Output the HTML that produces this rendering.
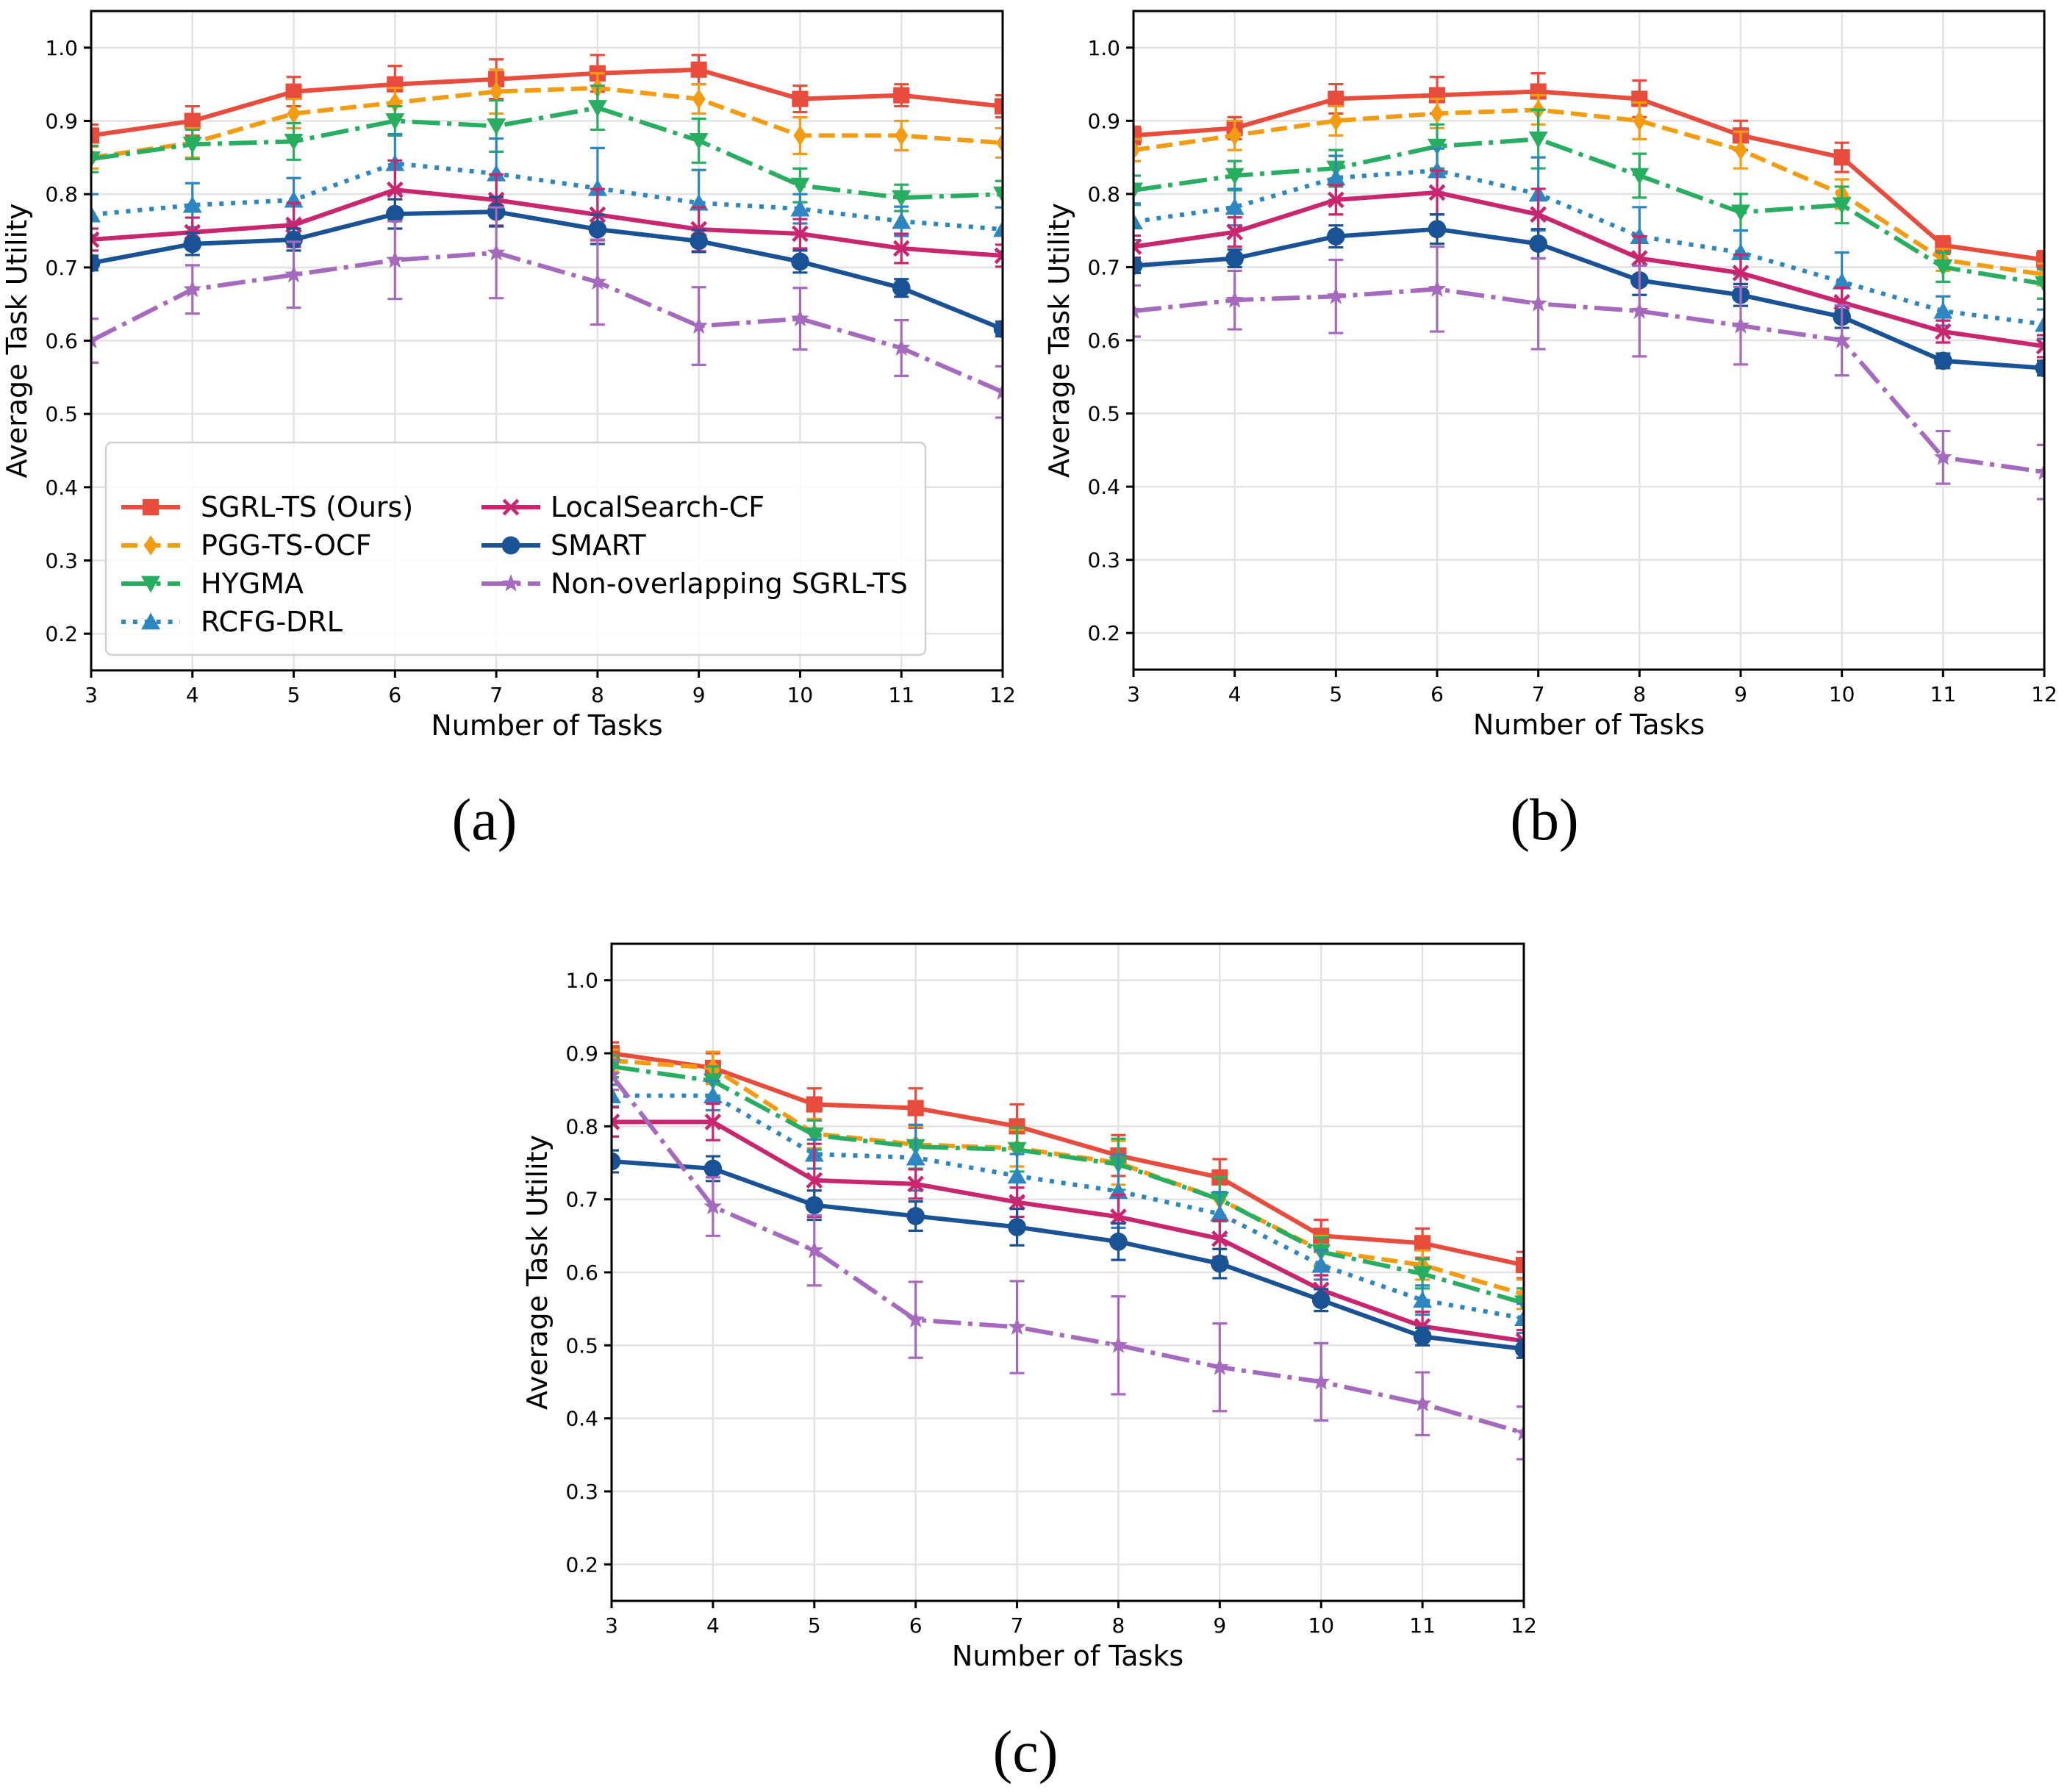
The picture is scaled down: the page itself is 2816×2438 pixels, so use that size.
<!DOCTYPE html>
<html><head><meta charset="utf-8">
<style>
html,body{margin:0;padding:0;background:#fff;}
svg{display:block;}
text{font-family:"DejaVu Sans","Liberation Sans",sans-serif;}
</style></head>
<body>
<svg id="fig" xmlns="http://www.w3.org/2000/svg" width="2816" height="2438" viewBox="0 0 2816 2438"></svg>
<script>
const xCats = [3,4,5,6,7,8,9,10,11,12];
const yTicks = [0.2,0.3,0.4,0.5,0.6,0.7,0.8,0.9,1.0];
const yTickLabels = ["0.2","0.3","0.4","0.5","0.6","0.7","0.8","0.9","1.0"];
const seriesNames = ["SGRL-TS (Ours)","PGG-TS-OCF","HYGMA","RCFG-DRL","LocalSearch-CF","SMART","Non-overlapping SGRL-TS"];

// Panel (a)
const aSgrl  = [0.88,0.90,0.94,0.95,0.957,0.965,0.97,0.93,0.935,0.92];
const aPgg   = [0.85,0.87,0.91,0.925,0.94,0.945,0.93,0.88,0.88,0.87];
const aHygma = [0.848,0.868,0.872,0.90,0.893,0.918,0.873,0.812,0.795,0.80];
const aRcfg  = [0.772,0.785,0.792,0.842,0.828,0.808,0.788,0.78,0.763,0.752];
const aLocal = [0.738,0.748,0.758,0.806,0.792,0.772,0.752,0.746,0.726,0.716];
const aSmart = [0.706,0.732,0.738,0.773,0.776,0.752,0.736,0.708,0.672,0.616];
const aNon   = [0.60,0.67,0.69,0.71,0.72,0.68,0.62,0.63,0.59,0.53];
const aSgrlErr  = [0.015,0.02,0.02,0.025,0.027,0.025,0.02,0.018,0.015,0.015];
const aPggErr   = [0.015,0.02,0.02,0.02,0.03,0.02,0.02,0.025,0.02,0.02];
const aHygmaErr = [0.018,0.02,0.025,0.02,0.035,0.03,0.03,0.023,0.018,0.018];
const aRcfgErr  = [0.028,0.03,0.03,0.04,0.048,0.055,0.045,0.02,0.02,0.03];
const aLocalErr = [0.015,0.02,0.03,0.04,0.035,0.035,0.03,0.02,0.02,0.015];
const aSmartErr = [0.01,0.015,0.015,0.02,0.02,0.02,0.015,0.015,0.012,0.01];
const aNonErr   = [0.03,0.033,0.045,0.053,0.062,0.058,0.053,0.042,0.038,0.035];

// Panel (b)
const bSgrl  = [0.88,0.89,0.93,0.935,0.94,0.93,0.88,0.85,0.73,0.71];
const bPgg   = [0.86,0.88,0.90,0.91,0.915,0.90,0.86,0.80,0.71,0.69];
const bHygma = [0.805,0.825,0.835,0.865,0.875,0.825,0.775,0.785,0.70,0.677];
const bRcfg  = [0.762,0.782,0.822,0.832,0.80,0.742,0.72,0.68,0.64,0.622];
const bLocal = [0.728,0.748,0.792,0.802,0.772,0.712,0.692,0.652,0.612,0.592];
const bSmart = [0.702,0.712,0.742,0.752,0.732,0.682,0.662,0.632,0.572,0.562];
const bNon   = [0.64,0.655,0.66,0.67,0.65,0.64,0.62,0.60,0.44,0.42];
const bSgrlErr  = [0.012,0.015,0.02,0.025,0.025,0.025,0.02,0.02,0.012,0.012];
const bPggErr   = [0.015,0.02,0.02,0.02,0.02,0.025,0.025,0.02,0.015,0.015];
const bHygmaErr = [0.02,0.02,0.025,0.03,0.04,0.03,0.025,0.025,0.02,0.02];
const bRcfgErr  = [0.025,0.025,0.03,0.03,0.05,0.04,0.03,0.04,0.02,0.02];
const bLocalErr = [0.015,0.02,0.02,0.03,0.035,0.03,0.025,0.02,0.015,0.015];
const bSmartErr = [0.01,0.012,0.015,0.02,0.02,0.02,0.015,0.015,0.01,0.01];
const bNonErr   = [0.035,0.04,0.05,0.058,0.062,0.062,0.053,0.048,0.036,0.037];

// Panel (c)
const cSgrl  = [0.90,0.88,0.83,0.825,0.80,0.76,0.73,0.65,0.64,0.61];
const cPgg   = [0.89,0.88,0.79,0.775,0.77,0.75,0.70,0.63,0.61,0.57];
const cHygma = [0.882,0.862,0.788,0.772,0.768,0.748,0.70,0.628,0.598,0.558];
const cRcfg  = [0.842,0.842,0.762,0.757,0.732,0.711,0.68,0.61,0.562,0.537];
const cLocal = [0.806,0.806,0.726,0.721,0.696,0.676,0.646,0.576,0.526,0.506];
const cSmart = [0.752,0.742,0.692,0.677,0.662,0.642,0.612,0.562,0.512,0.495];
const cNon   = [0.87,0.69,0.63,0.535,0.525,0.50,0.47,0.45,0.42,0.38];
const cSgrlErr  = [0.015,0.02,0.022,0.027,0.03,0.028,0.025,0.022,0.02,0.018];
const cPggErr   = [0.015,0.022,0.02,0.025,0.025,0.03,0.03,0.02,0.02,0.02];
const cHygmaErr = [0.015,0.02,0.02,0.03,0.03,0.035,0.03,0.02,0.02,0.02];
const cRcfgErr  = [0.015,0.02,0.02,0.045,0.03,0.05,0.03,0.02,0.02,0.02];
const cLocalErr = [0.02,0.025,0.05,0.02,0.02,0.03,0.025,0.02,0.02,0.015];
const cSmartErr = [0.015,0.017,0.02,0.02,0.025,0.025,0.02,0.015,0.012,0.012];
const cNonErr   = [0.02,0.04,0.048,0.052,0.063,0.067,0.06,0.053,0.043,0.036];

const styles = [
  {color:"#e74c3c", dash:"", marker:"s"},
  {color:"#f39c12", dash:"22 9.5", marker:"d"},
  {color:"#27ae60", dash:"38 9.5 6 9.5", marker:"v"},
  {color:"#2e86c1", dash:"6 9.9", marker:"^"},
  {color:"#c9266f", dash:"", marker:"x"},
  {color:"#1a5296", dash:"", marker:"o"},
  {color:"#a569bd", dash:"38 9.5 6 9.5", marker:"*"}
];

const NS = "http://www.w3.org/2000/svg";
const fig = document.getElementById("fig");
function el(tag, attrs, parent){
  const e = document.createElementNS(NS, tag);
  for (const k in attrs) e.setAttribute(k, attrs[k]);
  (parent||fig).appendChild(e);
  return e;
}

function drawMarker(g, type, cx, cy, color, r){
  let m;
  if (type==="s") m = el("rect",{x:cx-r*0.85,y:cy-r*0.85,width:r*1.7,height:r*1.7,fill:color},g);
  else if (type==="o") m = el("circle",{cx:cx,cy:cy,r:r*0.95,fill:color},g);
  else if (type==="d") m = el("polygon",{points:`${cx},${cy-r*1.05} ${cx+r*0.7},${cy} ${cx},${cy+r*1.05} ${cx-r*0.7},${cy}`,fill:color},g);
  else if (type==="v") m = el("polygon",{points:`${cx-r},${cy-r*0.8} ${cx+r},${cy-r*0.8} ${cx},${cy+r*0.95}`,fill:color},g);
  else if (type==="^") m = el("polygon",{points:`${cx-r},${cy+r*0.8} ${cx+r},${cy+r*0.8} ${cx},${cy-r*0.95}`,fill:color},g);
  else if (type==="x") m = el("path",{d:`M${cx-r*0.75},${cy-r*0.75}L${cx+r*0.75},${cy+r*0.75}M${cx-r*0.75},${cy+r*0.75}L${cx+r*0.75},${cy-r*0.75}`,stroke:color,"stroke-width":4.5,fill:"none"},g);
  else if (type==="*"){
    let pts=[];
    for(let i=0;i<10;i++){const a=-Math.PI/2+i*Math.PI/5;const rr=i%2?r*0.42:r;pts.push((cx+rr*Math.cos(a)).toFixed(1)+","+(cy+rr*Math.sin(a)).toFixed(1));}
    m = el("polygon",{points:pts.join(" "),fill:color},g);
  }
  
  
  return m;
}

function panel(id, L, R, T, B, series, errs, caption, capX, capY, withLegend){
  const g = el("g",{});
  
  
  const ymin=0.15, ymax=1.05;
  const xs = v => L + (v-3)/(12-3)*(R-L);
  const ys = v => B - (v-ymin)/(ymax-ymin)*(B-T);
  xCats.forEach(c=>{
    const l = el("line",{x1:xs(c),x2:xs(c),y1:T,y2:B,stroke:"#e3e3e3","stroke-width":2.5},g);
    
    
  });
  yTicks.forEach(v=>{
    const l = el("line",{x1:L,x2:R,y1:ys(v),y2:ys(v),stroke:"#e3e3e3","stroke-width":2.5},g);
    
    
  });
  const cp = el("clipPath",{id:"clip"+id},g);
  el("rect",{x:L,y:T,width:R-L,height:B-T},cp);
  const dg = el("g",{"clip-path":"url(#clip"+id+")"},g);
  series.forEach((vals,si)=>{
    const st = styles[si];
    const sg = el("g",{},dg);
    
    
    vals.forEach((v,i)=>{
      const x=xs(xCats[i]), e=errs[si][i];
      const y1=ys(v+e), y2=ys(v-e);
      const eb = el("path",{d:`M${x},${y1}L${x},${y2}M${x-10},${y1}L${x+10},${y1}M${x-10},${y2}L${x+10},${y2}`,stroke:st.color,"stroke-width":3.2,fill:"none"},sg);
      
      
    });
    const pts = vals.map((v,i)=>xs(xCats[i]).toFixed(1)+","+ys(v).toFixed(1)).join(" ");
    const pl = el("polyline",{points:pts,fill:"none",stroke:st.color,"stroke-width":6,"stroke-dasharray":st.dash,"stroke-linejoin":"round"},sg);
    
    
    vals.forEach((v,i)=>drawMarker(sg, st.marker, xs(xCats[i]), ys(v), st.color, 13));
  });
  const fr = el("rect",{x:L,y:T,width:R-L,height:B-T,fill:"none",stroke:"#000","stroke-width":3},g);
  
  
  xCats.forEach(c=>{
    el("line",{x1:xs(c),x2:xs(c),y1:B,y2:B+10,stroke:"#000","stroke-width":3},g);
    const t = el("text",{x:xs(c),y:B+43,"text-anchor":"middle","font-size":28},g);
    t.textContent = String(c);
    
    
  });
  yTicks.forEach((v,i)=>{
    el("line",{x1:L-10,x2:L,y1:ys(v),y2:ys(v),stroke:"#000","stroke-width":3},g);
    const t = el("text",{x:L-18,y:ys(v)+10,"text-anchor":"end","font-size":28},g);
    t.textContent = yTickLabels[i];
    
    
  });
  const xl = el("text",{x:(L+R)/2,y:B+88,"text-anchor":"middle","font-size":38},g);
  xl.textContent = "Number of Tasks";
  
  
  const yl = el("text",{x:0,y:0,"text-anchor":"middle","font-size":38,transform:`translate(${L-88},${(T+B)/2}) rotate(-90)`},g);
  yl.textContent = "Average Task Utility";
  
  
  const cap = el("text",{x:capX,y:capY,"text-anchor":"middle","font-size":80,style:"font-family:'Liberation Serif',serif"},g);
  cap.textContent = caption;
  
  

  if (withLegend){
    const lg = el("g",{},g);
    
    
    el("rect",{x:144,y:602,width:1115,height:289,rx:8,fill:"#fff","fill-opacity":0.85,stroke:"#d0d0d0","stroke-width":2.5},lg);
    const rowsY=[690,742,794,846];
    seriesNames.forEach((n,i)=>{
      const col = i<4?0:1, row = i<4?i:i-4;
      const hx = col===0?165:655, tx = col===0?273:749, y=rowsY[row];
      const st = styles[i];
      const e = el("g",{},lg);
      
      
      el("line",{x1:hx,x2:hx+80,y1:y,y2:y,stroke:st.color,"stroke-width":6,"stroke-dasharray":st.dash},e);
      drawMarker(e, st.marker, hx+40, y, st.color, 13);
      const t = el("text",{x:tx,y:y+13,"font-size":38},e);
      t.textContent = n;
    });
  }
}

panel("a",124,1364,15,912,[aSgrl,aPgg,aHygma,aRcfg,aLocal,aSmart,aNon],[aSgrlErr,aPggErr,aHygmaErr,aRcfgErr,aLocalErr,aSmartErr,aNonErr],"(a)",659,1142,true);
panel("b",1542,2781,15,911,[bSgrl,bPgg,bHygma,bRcfg,bLocal,bSmart,bNon],[bSgrlErr,bPggErr,bHygmaErr,bRcfgErr,bLocalErr,bSmartErr,bNonErr],"(b)",2101,1142,false);
panel("c",832,2073,1284,2178,[cSgrl,cPgg,cHygma,cRcfg,cLocal,cSmart,cNon],[cSgrlErr,cPggErr,cHygmaErr,cRcfgErr,cLocalErr,cSmartErr,cNonErr],"(c)",1395,2410,false);
</script>
</body></html>
